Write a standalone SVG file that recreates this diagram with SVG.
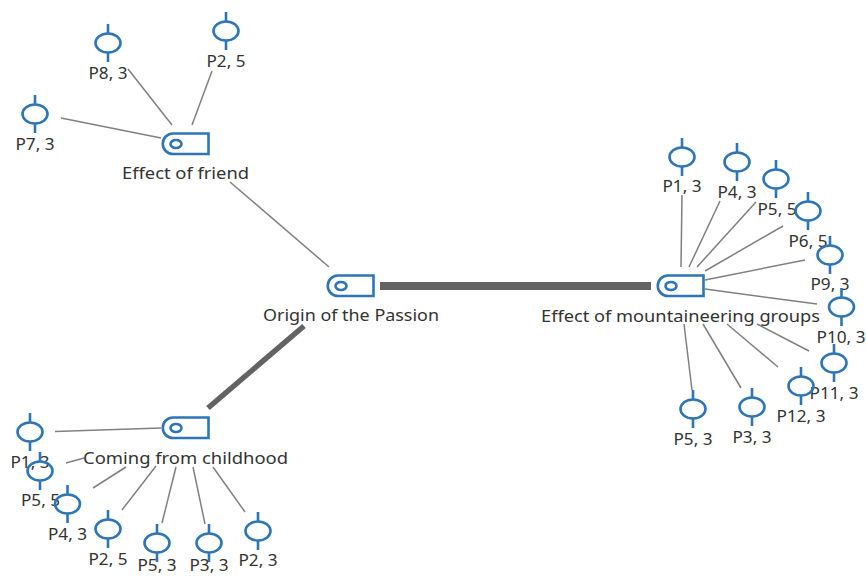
<svg xmlns="http://www.w3.org/2000/svg" xmlns:xlink="http://www.w3.org/1999/xlink" width="866" height="576" viewBox="0 0 866 576">
<style>
text{font-family:"Noto Sans","Open Sans","Liberation Sans",sans-serif;font-size:15.500px;fill:#333;text-anchor:middle}
.i{fill:none;stroke:#2e75b6;stroke-width:2.600}
.c line{stroke:#808080;stroke-width:1.500}
.c line.t{stroke:#636363}
</style>
<defs>
<g id="doc"><ellipse class="i" rx="12.500" ry="9.500"/><path class="i" d="M0-19V-9.500M0 9.500V19"/></g>
<g id="code"><path class="i" d="M-3-10.500H32.500V10H-3A10.250 10.250 0 0 1-3-10.500Z"/><ellipse class="i" cx="0" cy="0" rx="5.500" ry="4"/></g>
</defs>
<g id="connectors" class="c">
<line x1="61" y1="118" x2="161" y2="138"/><line x1="128" y1="69" x2="172" y2="125"/><line x1="212" y1="71" x2="192" y2="125"/><line x1="230" y1="182" x2="329" y2="267"/>
<line class="t" x1="380" y1="286" x2="651" y2="286" style="stroke-width:8"/><line class="t" x1="304" y1="326" x2="208" y2="408" style="stroke-width:5.500"/>
<line x1="55" y1="431.500" x2="161" y2="428"/><line x1="66" y1="463" x2="84" y2="458"/><line x1="93" y1="488" x2="126" y2="467"/><line x1="122" y1="510" x2="156" y2="466"/><line x1="162" y1="523" x2="176" y2="467"/><line x1="205" y1="524" x2="193" y2="467"/><line x1="245" y1="512" x2="213" y2="467"/>
<line x1="682" y1="195" x2="681" y2="267"/><line x1="720" y1="201" x2="689" y2="267"/><line x1="756" y1="202" x2="697" y2="267"/><line x1="783" y1="226" x2="705" y2="271"/><line x1="805" y1="260" x2="705" y2="280"/><line x1="817" y1="304" x2="705" y2="289"/>
<line x1="684" y1="324" x2="692" y2="390"/><line x1="703" y1="324" x2="741" y2="388"/><line x1="727" y1="324" x2="778" y2="367"/><line x1="757" y1="324" x2="809" y2="351"/>
</g>
<g id="n-friend"><use xlink:href="#code" x="176" y="144"/><text x="185.500" y="179" textLength="127" lengthAdjust="spacingAndGlyphs">Effect of friend</text></g>
<g id="n-origin"><use xlink:href="#code" x="341" y="286"/><text x="351" y="321" textLength="176" lengthAdjust="spacingAndGlyphs">Origin of the Passion</text></g>
<g id="n-mountain"><use xlink:href="#code" x="671" y="286"/><text x="680.500" y="322" textLength="279" lengthAdjust="spacingAndGlyphs">Effect of mountaineering groups</text></g>
<g id="n-child"><use xlink:href="#code" x="176" y="428"/><text x="185.500" y="464" textLength="205" lengthAdjust="spacingAndGlyphs">Coming from childhood</text></g>
<g id="d-p8"><use xlink:href="#doc" x="108" y="43"/><text x="108" y="79" textLength="39" lengthAdjust="spacingAndGlyphs">P8, 3</text></g>
<g id="d-p2a"><use xlink:href="#doc" x="226" y="31"/><text x="226" y="67" textLength="39" lengthAdjust="spacingAndGlyphs">P2, 5</text></g>
<g id="d-p7"><use xlink:href="#doc" x="35" y="114"/><text x="35" y="150" textLength="39" lengthAdjust="spacingAndGlyphs">P7, 3</text></g>
<g id="d-b1"><use xlink:href="#doc" x="30" y="432"/><text x="30" y="468" textLength="39" lengthAdjust="spacingAndGlyphs">P1, 3</text></g>
<g id="d-b2"><use xlink:href="#doc" x="40" y="471"/><text x="40.500" y="506" textLength="39" lengthAdjust="spacingAndGlyphs">P5, 5</text></g>
<g id="d-b3"><use xlink:href="#doc" x="67.500" y="504"/><text x="67.500" y="540" textLength="39" lengthAdjust="spacingAndGlyphs">P4, 3</text></g>
<g id="d-b4"><use xlink:href="#doc" x="108" y="529"/><text x="108" y="565" textLength="39" lengthAdjust="spacingAndGlyphs">P2, 5</text></g>
<g id="d-b5"><use xlink:href="#doc" x="157" y="543"/><text x="157" y="571" textLength="39" lengthAdjust="spacingAndGlyphs">P5, 3</text></g>
<g id="d-b6"><use xlink:href="#doc" x="209" y="543"/><text x="209" y="571" textLength="39" lengthAdjust="spacingAndGlyphs">P3, 3</text></g>
<g id="d-b7"><use xlink:href="#doc" x="258" y="531"/><text x="258" y="566" textLength="39" lengthAdjust="spacingAndGlyphs">P2, 3</text></g>
<g id="d-r1"><use xlink:href="#doc" x="682" y="157"/><text x="682" y="192" textLength="39" lengthAdjust="spacingAndGlyphs">P1, 3</text></g>
<g id="d-r2"><use xlink:href="#doc" x="737" y="162"/><text x="737" y="198" textLength="39" lengthAdjust="spacingAndGlyphs">P4, 3</text></g>
<g id="d-r3"><use xlink:href="#doc" x="776" y="179"/><text x="777" y="215" textLength="39" lengthAdjust="spacingAndGlyphs">P5, 5</text></g>
<g id="d-r4"><use xlink:href="#doc" x="808" y="211"/><text x="808" y="247" textLength="39" lengthAdjust="spacingAndGlyphs">P6, 5</text></g>
<g id="d-r5"><use xlink:href="#doc" x="830" y="255"/><text x="830" y="290" textLength="39" lengthAdjust="spacingAndGlyphs">P9, 3</text></g>
<g id="d-r6"><use xlink:href="#doc" x="841.500" y="307"/><text x="841" y="343" textLength="49" lengthAdjust="spacingAndGlyphs">P10, 3</text></g>
<g id="d-r7"><use xlink:href="#doc" x="834" y="363"/><text x="834" y="399" textLength="49" lengthAdjust="spacingAndGlyphs">P11, 3</text></g>
<g id="d-r8"><use xlink:href="#doc" x="801" y="386"/><text x="801" y="422" textLength="49" lengthAdjust="spacingAndGlyphs">P12, 3</text></g>
<g id="d-r9"><use xlink:href="#doc" x="752" y="407"/><text x="752" y="443" textLength="39" lengthAdjust="spacingAndGlyphs">P3, 3</text></g>
<g id="d-r10"><use xlink:href="#doc" x="693" y="409"/><text x="693" y="445" textLength="39" lengthAdjust="spacingAndGlyphs">P5, 3</text></g>
</svg>
